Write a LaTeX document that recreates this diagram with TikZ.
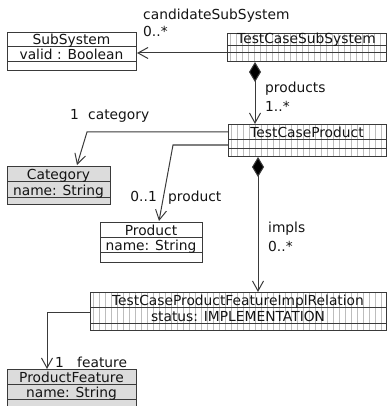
\documentclass[tikz,border=0pt]{standalone}
\usepackage{fontspec}
\setmainfont{DejaVu Sans}
\usetikzlibrary{arrows.meta,calc}
\definecolor{linec}{HTML}{3A3A3A}
\definecolor{hatchc}{HTML}{BDBDBD}
\definecolor{graybox}{HTML}{DCDCDC}
\newcommand\umlfont{\fontsize{13.8}{16}\selectfont}
\tikzset{
  cls/.style={draw=linec, line width=1pt, inner sep=0pt, anchor=north west},
  shaded/.style={cls, fill=graybox},
  plain/.style={cls, fill=white},
  hatched/.style={cls, fill=white, path picture={
      \foreach \i in {3,9,...,300}
        \draw[hatchc, line width=0.9pt]
          ([xshift=\i pt]path picture bounding box.south west) --
          ([xshift=\i pt]path picture bounding box.north west);}},
  sep/.style={draw=linec, line width=1pt},
  txt/.style={font=\umlfont, inner sep=0pt, text=black!92},
  conn/.style={draw=linec, line width=1pt},
  assoc/.style={conn, -{Straight Barb[length=10pt,width=11pt]}},
  compo/.style={conn, {Diamond[length=20pt,width=12pt,fill=black]}-{Straight Barb[length=10pt,width=11pt]}}
}
\begin{document}
\begin{tikzpicture}[x=1pt,y=-1pt]
\useasboundingbox (0,0) rectangle (387,406);

% ---- class boxes ----
\node[plain,   minimum width=129pt, minimum height=38pt] (ss)   at (7,32)   {};
\node[hatched, minimum width=159pt, minimum height=28pt] (tcss) at (227,33) {};
\node[hatched, minimum width=158pt, minimum height=32pt] (tcp)  at (228,124) {};
\node[shaded,  minimum width=103pt, minimum height=38pt] (cat)  at (7,166)  {};
\node[plain,   minimum width=102pt, minimum height=40pt] (prod) at (100,222) {};
\node[hatched, minimum width=296pt, minimum height=38pt] (impl) at (90,292) {};
\node[shaded,  minimum width=129pt, minimum height=45pt] (pf)   at (7,369)  {};

% compartment separators
\draw[sep] (7,47) -- (136,47) (7,62) -- (136,62);
\draw[sep] (227,46) -- (386,46) (227,53) -- (386,53);
\draw[sep] (228,140) -- (386,140) (228,148) -- (386,148);
\draw[sep] (7,181) -- (110,181) (7,197) -- (110,197);
\draw[sep] (100,237) -- (202,237) (100,252) -- (202,252);
\draw[sep] (90,307) -- (386,307) (90,323) -- (386,323);
\draw[sep] (7,384) -- (136,384) (7,399) -- (136,399);

% ---- class texts ----
\node[txt, anchor=base] (ssn)   at (71.5,45)  {SubSystem};
\node[txt, anchor=base] (ssa)   at (71.5,60)  {valid : Boolean};
\node[txt, anchor=base] (tcssn) at (306.5,44) {TestCaseSubSystem};
\node[txt, anchor=base] (tcpn)  at (307,138)  {TestCaseProduct};
\node[txt, anchor=base] (catn)  at (58.5,179) {Category};
\node[txt, anchor=base] (cata)  at (58.5,195) {name: String};
\node[txt, anchor=base] (prodn) at (151,235)  {Product};
\node[txt, anchor=base] (proda) at (151,250)  {name: String};
\node[txt, anchor=base] (impln) at (238,305)  {TestCaseProductFeatureImplRelation};
\node[txt, anchor=base] (impla) at (238,321)  {status: IMPLEMENTATION};
\node[txt, anchor=base] (pfn)   at (71.5,382) {ProductFeature};
\node[txt, anchor=base] (pfa)   at (71.5,397) {name: String};

% ---- connectors ----
% TestCaseSubSystem -> SubSystem
\draw[assoc] ($(tcss.north west)+(0,20)$) -- ($(ss.north east)+(0,21)$);
% TestCaseSubSystem <>-> TestCaseProduct
\coordinate (d1) at ($(tcss.south west)+(28,0)$);
\draw[compo] (d1) -- (d1 |- tcp.north);
% TestCaseProduct -> Category
\coordinate (c1) at ($(tcp.north west)+(0,8)$);
\coordinate (c2) at (87,132);
\draw[assoc] (c1) -- (c2) -- ($(cat.north west)+(70,-1)$);
% TestCaseProduct -> Product
\coordinate (p1) at ($(tcp.north west)+(0,21)$);
\coordinate (p2) at (173,145);
\draw[assoc] (p1) -- (p2) -- ($(prod.north west)+(59,-1)$);
% TestCaseProduct <>-> TestCaseProductFeatureImplRelation
\coordinate (d2) at ($(tcp.south west)+(30,0)$);
\draw[compo] (d2) -- (d2 |- impl.north);
% TestCaseProductFeatureImplRelation -> ProductFeature
\coordinate (f1) at ($(impl.north west)+(0,20)$);
\coordinate (f2) at (47,312);
\draw[assoc] (f1) -- (f2) -- (f2 |- pf.north);

% ---- role names and multiplicities ----
\node[txt, anchor=base west] (l1)  at (143,20)  {candidateSubSystem};
\node[txt, anchor=base west] (m1)  at (143,37)  {0..*};
\node[txt, anchor=base west] (l2)  at (265,93)  {products};
\node[txt, anchor=base west] (m2)  at (265,112) {1..*};
\node[txt, anchor=base west] (m3)  at (70,120)  {1};
\node[txt, anchor=base west] (l3)  at (88,120)  {category};
\node[txt, anchor=base east] (m4)  at (157,201) {0..1};
\node[txt, anchor=base west] (l4)  at (168,201) {product};
\node[txt, anchor=base west] (l5)  at (268,232) {impls};
\node[txt, anchor=base west] (m5)  at (268,251) {0..*};
\node[txt, anchor=base west] (m6)  at (55,367)  {1};
\node[txt, anchor=base west] (l6)  at (77,367)  {feature};
\end{tikzpicture}
\end{document}
